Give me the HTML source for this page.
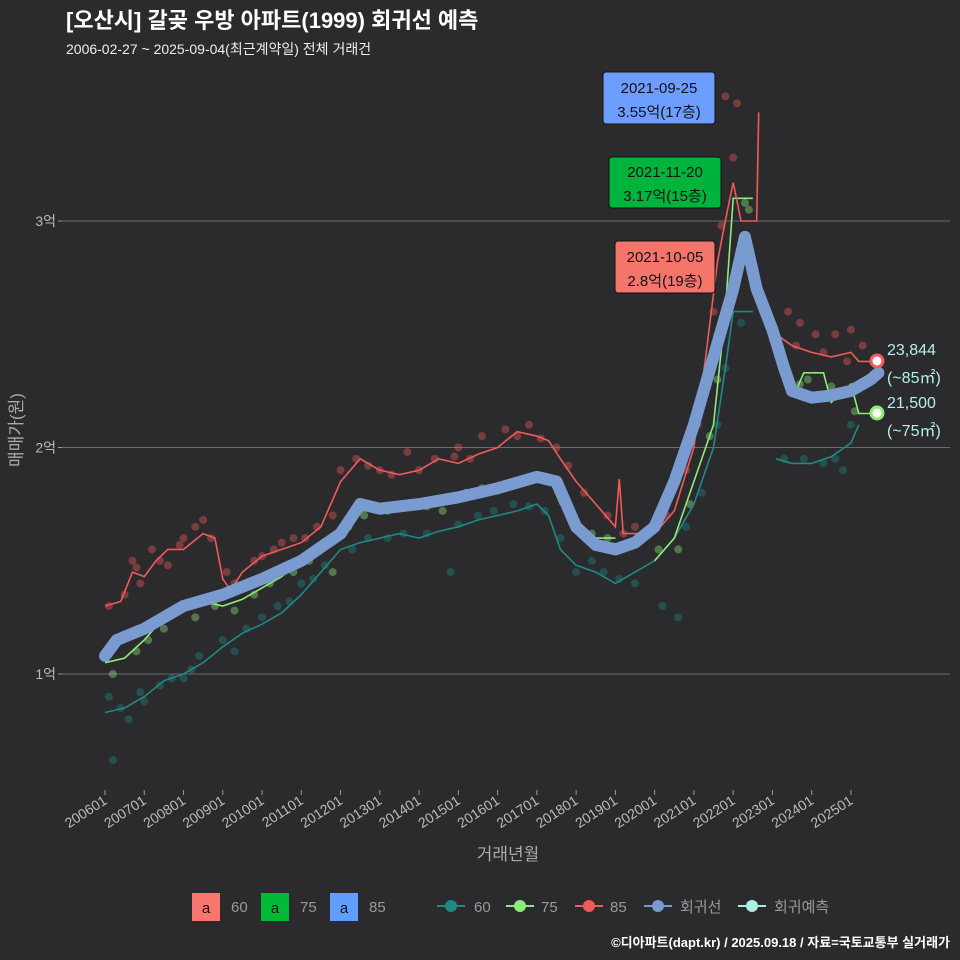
<!DOCTYPE html>
<html><head><meta charset="utf-8"><style>
body{margin:0;background:#2b2b2d;}
svg{display:block;font-family:"Liberation Sans","Noto Sans CJK KR",sans-serif;}
</style></head><body>
<svg id="c" width="960" height="960" viewBox="0 0 960 960">
<rect width="960" height="960" fill="#2b2b2d"/>
<text x="66" y="28" fill="#fff" font-size="22" font-weight="bold">[오산시] 갈곶 우방 아파트(1999) 회귀선 예측</text>
<text x="66" y="54" fill="#eee" font-size="14">2006-02-27 ~ 2025-09-04(최근계약일) 전체 거래건</text>
<g id="grid"></g>
<g id="yt"></g>
<g id="xt"></g>
<g id="pts"></g>
<g id="lines"></g>
<text x="508" y="860" fill="#aaa" font-size="17" text-anchor="middle">거래년월</text>
<text transform="translate(22,430) rotate(-90)" fill="#aaa" font-size="17" text-anchor="middle">매매가(원)</text>

<g>
<rect x="603" y="72" width="112" height="52" rx="3" fill="#6d9eff" stroke="#111"/>
<text x="659" y="93" font-size="15" text-anchor="middle" fill="#111">2021-09-25</text>
<text x="659" y="117" font-size="15" text-anchor="middle" fill="#111">3.55억(17층)</text></g>
<g>
<rect x="609" y="157" width="112" height="51" rx="3" fill="#00b33c" stroke="#111"/>
<text x="665" y="177" font-size="15" text-anchor="middle" fill="#111">2021-11-20</text>
<text x="665" y="201" font-size="15" text-anchor="middle" fill="#111">3.17억(15층)</text></g>
<g>
<rect x="615" y="241" width="100" height="52" rx="3" fill="#f5756b" stroke="#111"/>
<text x="665" y="262" font-size="15" text-anchor="middle" fill="#111">2021-10-05</text>
<text x="665" y="286" font-size="15" text-anchor="middle" fill="#111">2.8억(19층)</text></g>

<g fill="#b4efe8" font-size="16">
<text x="887" y="355">23,844</text><text x="887" y="383">(~85㎡)</text>
<text x="887" y="408">21,500</text><text x="887" y="436">(~75㎡)</text></g>
<circle cx="877" cy="361" r="6" fill="#fff" stroke="#f05a5a" stroke-width="3"/>
<circle cx="877" cy="413" r="6" fill="#fff" stroke="#8fea7a" stroke-width="3"/>

<g font-size="15" fill="#999">
<rect x="192" y="893" width="28" height="28" fill="#f8766d"/><text x="206" y="913" fill="#111" text-anchor="middle">a</text><text x="231" y="912">60</text>
<rect x="261" y="893" width="28" height="28" fill="#00ba38"/><text x="275" y="913" fill="#111" text-anchor="middle">a</text><text x="300" y="912">75</text>
<rect x="330" y="893" width="28" height="28" fill="#619cff"/><text x="344" y="913" fill="#111" text-anchor="middle">a</text><text x="369" y="912">85</text>
<line x1="437" y1="906" x2="465" y2="906" stroke="#1f8a85" stroke-width="2"/><circle cx="451" cy="906" r="6" fill="#1f8a85"/><text x="474" y="912">60</text>
<line x1="506" y1="906" x2="534" y2="906" stroke="#8fea7a" stroke-width="2"/><circle cx="520" cy="906" r="6" fill="#8fea7a"/><text x="541" y="912">75</text>
<line x1="575" y1="906" x2="603" y2="906" stroke="#f05a5a" stroke-width="2"/><circle cx="589" cy="906" r="6" fill="#f05a5a"/><text x="610" y="912">85</text>
<line x1="644" y1="906" x2="672" y2="906" stroke="#7a9bd0" stroke-width="2"/><circle cx="658" cy="906" r="6" fill="#7a9bd0"/><text x="680" y="912">회귀선</text>
<line x1="738" y1="906" x2="766" y2="906" stroke="#a8efe6" stroke-width="2"/><circle cx="752" cy="906" r="6" fill="#a8efe6"/><text x="774" y="912">회귀예측</text>
</g>
<text x="950" y="947" fill="#fff" font-size="13" font-weight="bold" text-anchor="end">©디아파트(dapt.kr) / 2025.09.18 / 자료=국토교통부 실거래가</text>
</svg>
<script>
const yTicks=[1,2,3];
const yLabels=["1억","2억","3억"];
const xYears=[2006,2007,2008,2009,2010,2011,2012,2013,2014,2015,2016,2017,2018,2019,2020,2021,2022,2023,2024,2025];
const line60=[[2006,0.83],[2006.5,0.85],[2007,0.9],[2007.5,0.97],[2008,1.0],[2008.5,1.05],[2009,1.12],[2009.5,1.18],[2010,1.22],[2010.5,1.27],[2011,1.35],[2011.5,1.45],[2012,1.55],[2012.5,1.58],[2013,1.6],[2013.5,1.62],[2014,1.6],[2014.5,1.63],[2015,1.65],[2015.5,1.68],[2016,1.7],[2016.5,1.72],[2017,1.75],[2017.3,1.7],[2017.6,1.55],[2018,1.48],[2018.5,1.45],[2019,1.4],[2019.5,1.45],[2020,1.5],[2020.5,1.6],[2021,1.75],[2021.5,2.0],[2021.8,2.35],[2022,2.6],[2022.5,2.6],null,[2023.1,1.95],[2023.5,1.93],[2024,1.93],[2024.5,1.96],[2025,2.02],[2025.2,2.1]];
const line75=[[2006,1.05],[2006.5,1.07],[2007,1.15],[2007.5,1.25],[2008,1.3],[2008.5,1.32],[2009,1.3],[2009.5,1.33],[2010,1.38],[2010.5,1.43],[2011,1.5],[2011.5,1.55],[2012,1.65],[2012.5,1.72],[2013,1.73],[2013.5,1.72],[2014,1.73],[2014.5,1.76],[2015,1.78],[2015.5,1.8],[2016,1.83],[2016.5,1.85],[2017,1.88],[2017.3,1.87],[2017.6,1.75],[2018,1.65],[2018.5,1.6],[2019,1.6],null,[2020,1.5],[2020.5,1.6],[2021,1.85],[2021.5,2.1],[2021.8,2.6],[2022,3.1],[2022.5,3.1],null,[2023.6,2.25],[2023.8,2.33],[2024.3,2.33],[2024.5,2.2],[2025,2.28],[2025.2,2.15],[2025.5,2.15]];
const line85=[[2006,1.3],[2006.4,1.32],[2006.7,1.45],[2007,1.43],[2007.3,1.5],[2007.6,1.55],[2008,1.55],[2008.5,1.62],[2008.8,1.6],[2009,1.42],[2009.2,1.37],[2009.5,1.45],[2010,1.52],[2010.5,1.55],[2011,1.58],[2011.5,1.65],[2012,1.85],[2012.5,1.95],[2013,1.9],[2013.5,1.88],[2014,1.9],[2014.5,1.95],[2015,1.93],[2015.5,1.97],[2016,2.0],[2016.5,2.07],[2017,2.05],[2017.3,2.03],[2017.6,1.95],[2018,1.85],[2018.5,1.75],[2019,1.65],[2019.1,1.86],[2019.2,1.62],[2020,1.62],[2020.5,1.72],[2021,2.0],[2021.3,2.4],[2021.6,2.82],[2021.8,3.0],[2022,3.17],[2022.2,3.0],[2022.6,3.0],[2022.65,3.48],null,[2023.1,2.5],[2023.5,2.45],[2024,2.42],[2024.5,2.4],[2025,2.42],[2025.2,2.38],[2025.5,2.38]];
const regLine=[[2006,1.08],[2006.3,1.15],[2007,1.2],[2008,1.3],[2009,1.35],[2010,1.42],[2011,1.5],[2012,1.62],[2012.5,1.75],[2013,1.73],[2014,1.75],[2015,1.78],[2016,1.82],[2017,1.87],[2017.5,1.85],[2018,1.65],[2018.5,1.57],[2019,1.55],[2019.5,1.58],[2020,1.65],[2020.5,1.85],[2021,2.1],[2021.5,2.4],[2022,2.7],[2022.3,2.93],[2022.6,2.7],[2023,2.52],[2023.3,2.35],[2023.5,2.25],[2024,2.22],[2024.5,2.23],[2025,2.25],[2025.5,2.3],[2025.7,2.33]];
const pts60=[[2006.1,0.9],[2006.2,0.62],[2006.6,0.8],[2007,0.88],[2007.4,0.95],[2008,0.98],[2008.4,1.08],[2009,1.15],[2009.6,1.2],[2010.4,1.3],[2011,1.4],[2011.6,1.48],[2012.3,1.55],[2013.2,1.6],[2014.2,1.62],[2014.8,1.45],[2015.5,1.7],[2016.4,1.75],[2017.2,1.72],[2018,1.45],[2018.7,1.45],[2019.5,1.4],[2020.2,1.3],[2020.6,1.25],[2021.2,1.8],[2021.6,2.1],[2022.2,2.55],[2023.8,1.95],[2024.3,1.93],[2024.8,1.9],[2025,2.1],[2006.4,0.85],[2006.9,0.92],[2007.7,0.98],[2008.2,1.02],[2009.3,1.1],[2010,1.25],[2010.7,1.32],[2011.3,1.42],[2012.7,1.6],[2013.6,1.62],[2015,1.66],[2015.9,1.72],[2016.8,1.74],[2017.6,1.6],[2018.4,1.5],[2019.1,1.42],[2020.8,1.65],[2021.8,2.35],[2023.3,1.95],[2024.6,1.95]];
const pts75=[[2006.2,1.0],[2006.8,1.1],[2007.5,1.2],[2008.3,1.25],[2009.3,1.28],[2010.2,1.4],[2011.2,1.5],[2011.8,1.45],[2012.6,1.7],[2013.6,1.75],[2014.6,1.72],[2015.6,1.82],[2016.6,1.85],[2017.4,1.85],[2018.4,1.62],[2020.1,1.55],[2020.6,1.55],[2021.4,2.05],[2021.9,2.6],[2022.3,3.08],[2022.4,3.05],[2023.9,2.3],[2024.5,2.27],[2024.8,2.25],[2007.1,1.15],[2008.8,1.3],[2009.8,1.35],[2010.8,1.45],[2012.2,1.65],[2013.2,1.72],[2014.2,1.74],[2015.2,1.8],[2016.2,1.84],[2017.0,1.86],[2018.8,1.6],[2020.9,1.75],[2021.6,2.3],[2023.7,2.28],[2025.1,2.16]];
const pts85=[[2006.1,1.3],[2006.7,1.5],[2006.9,1.4],[2007.2,1.55],[2007.6,1.48],[2008,1.6],[2008.5,1.68],[2008.7,1.6],[2009.3,1.4],[2009.8,1.5],[2010.3,1.55],[2010.8,1.6],[2011.4,1.65],[2012,1.9],[2012.4,1.95],[2013,1.9],[2013.7,1.98],[2014.4,1.95],[2015,2.0],[2015.6,2.05],[2016.2,2.08],[2016.8,2.1],[2017.5,2.0],[2018.2,1.8],[2018.8,1.7],[2019.5,1.65],[2020.3,1.7],[2020.8,1.9],[2021.3,2.3],[2021.6,2.5],[2021.8,3.55],[2022.1,3.52],[2022.0,3.28],[2023.4,2.6],[2023.7,2.55],[2024.1,2.5],[2024.6,2.5],[2025.0,2.52],[2025.3,2.45],[2006.5,1.35],[2006.8,1.47],[2007.4,1.5],[2007.9,1.57],[2008.3,1.65],[2009.1,1.45],[2010,1.52],[2010.5,1.58],[2011.1,1.6],[2011.8,1.7],[2012.7,1.92],[2013.3,1.88],[2014,1.9],[2014.9,1.96],[2015.3,1.95],[2016.5,2.05],[2017.1,2.04],[2017.8,1.92],[2019.2,1.62],[2020,1.65],[2021.1,2.1],[2021.5,2.6],[2021.7,2.98],[2023.6,2.45],[2024.3,2.42],[2024.9,2.38]];
const X=t=>105+(t-2006)*39.26, Y=v=>674-(v-1)*226.5;
const NS="http://www.w3.org/2000/svg";
function mk(tag,attrs,parent,name){const e=document.createElementNS(NS,tag);for(const k in attrs)e.setAttribute(k,attrs[k]);


document.getElementById(parent).appendChild(e);return e;}
yTicks.forEach((v,i)=>{mk('line',{x1:62,x2:950,y1:Y(v),y2:Y(v),stroke:'#6a6a6a','stroke-width':1},'grid','gridline');
mk('line',{x1:58,x2:62,y1:Y(v),y2:Y(v),stroke:'#999'},'yt','y-tick');
const t=mk('text',{x:56,y:Y(v)+5,fill:'#bbb','font-size':14,'text-anchor':'end'},'yt','y-tick-label');t.textContent=yLabels[i];});
xYears.forEach(yr=>{const x=X(yr);mk('line',{x1:x,x2:x,y1:790,y2:795,stroke:'#999'},'xt','x-tick');
const t=mk('text',{transform:`translate(${x+3},${803}) rotate(-33)`,fill:'#bbb','font-size':14,'text-anchor':'end'},'xt','x-tick-label');t.textContent=yr+'01';});
function pts(arr,col,name){arr.forEach(p=>mk('circle',{cx:X(p[0]),cy:Y(p[1]),r:4,fill:col,opacity:0.4},'pts',name));}
pts(pts60,'#1f8a85','point-60');pts(pts75,'#8fea7a','point-75');pts(pts85,'#f05a5a','point-85');
function path(arr){let d='',m=true;arr.forEach(p=>{if(!p){m=true;return;}d+=(m?'M':'L')+X(p[0]).toFixed(1)+','+Y(p[1]).toFixed(1);m=false;});return d;}
mk('path',{d:path(line60),fill:'none',stroke:'#1f8a85','stroke-width':1.6},'lines','line-60');
mk('path',{d:path(line75),fill:'none',stroke:'#8fea7a','stroke-width':1.6},'lines','line-75');
mk('path',{d:path(line85),fill:'none',stroke:'#f05a5a','stroke-width':1.6},'lines','line-85');
mk('path',{d:path(regLine),fill:'none',stroke:'#7a9bd0','stroke-width':12,'stroke-linecap':'round','stroke-linejoin':'round'},'lines','regression-line');
</script>
</body></html>
